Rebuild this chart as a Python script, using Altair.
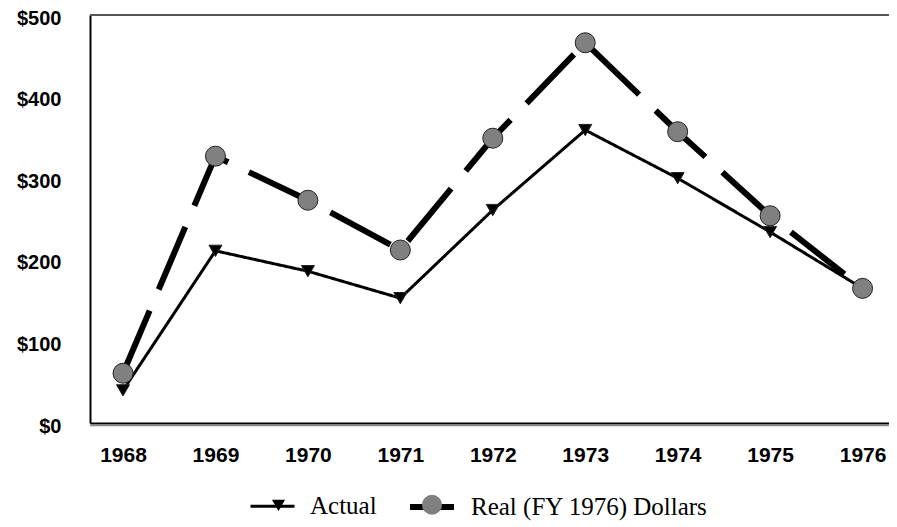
import altair as alt
import pandas as pd

years = [1968, 1969, 1970, 1971, 1972, 1973, 1974, 1975, 1976]
actual = [40, 211, 186, 153, 261, 359, 300, 234, 165]
real = [61, 327, 273, 212, 349, 466, 357, 254, 165]
series_names = ["Actual", "Real (FY 1976) Dollars"]
y_ticks = [0, 100, 200, 300, 400, 500]

rows = []
for yr, v in zip(years, actual):
    rows.append({"year": yr, "value": v, "series": series_names[0]})
for yr, v in zip(years, real):
    rows.append({"year": yr, "value": v, "series": series_names[1]})
df = pd.DataFrame(rows)

W, H = 799, 408
AX_FONT = "Liberation Sans"
LEG_FONT = "Liberation Serif"

x = alt.X("year:Q",
          scale=alt.Scale(domain=[1967.643, 1976.286], nice=False, zero=False),
          axis=alt.Axis(values=years, format="d", title=None, ticks=False, grid=False,
                        domainColor="black", domainWidth=2,
                        labelFont=AX_FONT, labelFontWeight="bold", labelFontSize=21,
                        labelColor="black", labelPadding=21))
y = alt.Y("value:Q",
          scale=alt.Scale(domain=[0, 500], nice=False),
          axis=alt.Axis(values=y_ticks, format="$.0f", title=None, ticks=False, grid=False,
                        domainColor="black", domainWidth=2, labelOffset=3,
                        labelFont=AX_FONT, labelFontWeight="bold", labelFontSize=20,
                        labelColor="black", labelPadding=29))

leg1 = alt.Legend(title=None, orient="none", legendX=159, legendY=467, direction="horizontal",
                  symbolType="stroke", symbolSize=1936, symbolStrokeColor="black",
                  labelFont=LEG_FONT, labelFontSize=25, labelColor="black",
                  labelOffset=14, columnPadding=21, padding=0, zindex=0, labelLimit=400)
leg2 = alt.Legend(title=None, orient="none", legendX=181, legendY=479, direction="horizontal",
                  labelExpr="''", labelFontSize=1, labelOffset=0,
                  symbolStrokeColor="#222", symbolStrokeWidth=1, symbolOpacity=1,
                  columnPadding=131.5, padding=0, zindex=1)

lines = alt.Chart(df).mark_line(color="black").encode(
    x=x, y=y,
    strokeDash=alt.StrokeDash("series:N",
                              scale=alt.Scale(domain=series_names, range=[[1, 0], [68, 23]]),
                              legend=leg1),
    strokeWidth=alt.StrokeWidth("series:N",
                                scale=alt.Scale(domain=series_names, range=[3, 6]),
                                legend=leg1),
)

points = alt.Chart(df).transform_calculate(sp="datum.series").mark_point(
    filled=True, opacity=1, stroke="#222", strokeWidth=1
).encode(
    x=x, y=y,
    shape=alt.Shape("sp:N", scale=alt.Scale(range=["triangle-down", "circle"]),
                    legend=leg2),
    fill=alt.Fill("sp:N", scale=alt.Scale(range=["black", "#808080"]),
                  legend=leg2),
    size=alt.Size("sp:N", scale=alt.Scale(range=[170, 400]),
                  legend=leg2),
)

frame_df = pd.DataFrame({"k": [0]})
top_rule = alt.Chart(frame_df).mark_rule(color="#555", strokeWidth=2).encode(
    x=alt.value(0), x2=alt.value(W), y=alt.value(0))
shadow_rule = alt.Chart(frame_df).mark_rule(color="#888", strokeWidth=1.5).encode(
    x=alt.value(0), x2=alt.value(W), y=alt.value(H + 2.5))

chart = alt.layer(top_rule, shadow_rule, lines, points).properties(
    width=W, height=H,
    autosize=alt.AutoSizeParams(type="none"),
    padding={"left": 82, "top": 7, "right": 0, "bottom": 104},
).configure_view(stroke=None).configure(background="white")

chart.save("out.html", embed_options={"renderer": "svg", "actions": False})
